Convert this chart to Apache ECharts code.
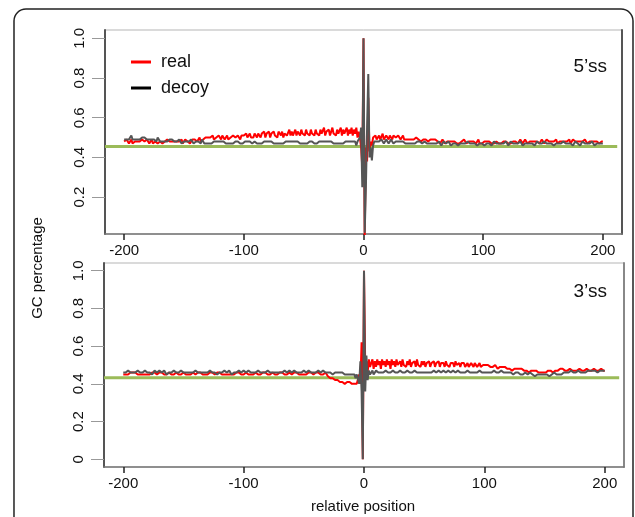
<!DOCTYPE html>
<html><head><meta charset="utf-8">
<script src="https://cdn.jsdelivr.net/npm/echarts@6/dist/echarts.min.js"></script>
<style>html,body{margin:0;padding:0;background:#fff}#c{width:635px;height:517px}</style>
</head><body><div id="c"></div>
<script>
// x tick labels and y tick labels
const xTicks = [-200, -100, 0, 100, 200];
const yTicksTop = [0.2, 0.4, 0.6, 0.8, 1.0];
const yTicksBottom = [0, 0.2, 0.4, 0.6, 0.8, 1.0];
const panelLabels = ['5’ss', '3’ss'];
const seriesNames = ['real', 'decoy'];
// genome-wide GC reference levels (green lines)
const baselineTop = 0.455;
const baselineBottom = 0.433;
const baselineX = [-216, 212];

// 5'ss panel, positions -200..200
const topReal = [
0.48,0.47,0.49,0.48,0.47,0.48,0.49,0.47,0.48,0.48,
0.47,0.48,0.49,0.48,0.47,0.49,0.48,0.48,0.47,0.49,
0.48,0.47,0.48,0.49,0.47,0.48,0.48,0.49,0.47,0.48,
0.48,0.49,0.47,0.48,0.48,0.47,0.49,0.48,0.48,0.47,
0.48,0.49,0.48,0.47,0.48,0.49,0.48,0.48,0.49,0.47,
0.48,0.49,0.48,0.48,0.49,0.47,0.48,0.49,0.48,0.49,
0.49,0.48,0.49,0.50,0.48,0.49,0.49,0.48,0.50,0.49,
0.50,0.49,0.50,0.49,0.51,0.49,0.50,0.50,0.49,0.51,
0.50,0.49,0.51,0.50,0.49,0.50,0.51,0.49,0.50,0.50,
0.49,0.51,0.50,0.50,0.49,0.51,0.50,0.49,0.51,0.50,
0.51,0.50,0.52,0.50,0.51,0.52,0.50,0.51,0.50,0.52,
0.51,0.50,0.52,0.51,0.50,0.52,0.51,0.53,0.50,0.52,
0.51,0.53,0.50,0.52,0.51,0.53,0.51,0.52,0.50,0.53,
0.52,0.51,0.53,0.50,0.52,0.53,0.51,0.52,0.54,0.51,
0.53,0.51,0.52,0.54,0.51,0.53,0.52,0.51,0.54,0.52,
0.53,0.51,0.54,0.52,0.53,0.51,0.54,0.52,0.53,0.51,
0.54,0.52,0.53,0.51,0.54,0.52,0.53,0.55,0.51,0.53,
0.52,0.54,0.51,0.53,0.55,0.52,0.53,0.51,0.54,0.52,
0.53,0.55,0.51,0.54,0.52,0.53,0.55,0.51,0.54,0.52,
0.55,0.51,0.54,0.52,0.55,0.50,0.53,0.50,0.45,0.35,
1.00,0.00,0.45,0.38,0.70,0.43,0.48,0.46,0.50,0.49,
0.51,0.49,0.50,0.51,0.49,0.50,0.52,0.49,0.50,0.51,
0.50,0.49,0.51,0.50,0.49,0.51,0.50,0.50,0.49,0.51,
0.50,0.49,0.50,0.51,0.49,0.50,0.49,0.50,0.49,0.50,
0.49,0.50,0.49,0.48,0.50,0.49,0.49,0.50,0.48,0.49,
0.49,0.48,0.49,0.50,0.48,0.49,0.49,0.48,0.49,0.48,
0.49,0.48,0.48,0.49,0.47,0.48,0.49,0.48,0.47,0.48,
0.48,0.47,0.48,0.49,0.48,0.47,0.48,0.48,0.47,0.48,
0.47,0.48,0.48,0.47,0.49,0.48,0.47,0.48,0.48,0.47,
0.48,0.47,0.48,0.48,0.47,0.48,0.49,0.47,0.48,0.47,
0.48,0.48,0.47,0.48,0.47,0.48,0.48,0.47,0.48,0.47,
0.47,0.48,0.48,0.47,0.48,0.47,0.48,0.48,0.47,0.48,
0.48,0.47,0.48,0.47,0.48,0.48,0.47,0.48,0.48,0.47,
0.48,0.49,0.48,0.47,0.48,0.49,0.48,0.47,0.48,0.48,
0.49,0.48,0.47,0.48,0.49,0.48,0.48,0.47,0.48,0.49,
0.48,0.47,0.48,0.49,0.48,0.48,0.47,0.48,0.49,0.48,
0.48,0.49,0.47,0.48,0.48,0.49,0.48,0.47,0.48,0.49,
0.48,0.48,0.49,0.47,0.48,0.49,0.48,0.48,0.47,0.48,
0.49,0.48,0.47,0.48,0.48,0.49,0.48,0.47,0.48,0.48,
0.47,0.48,0.49,0.48,0.47,0.48,0.48,0.47,0.48,0.48,
0.48];

const topDecoy = [
0.49,0.50,0.49,0.50,0.49,0.50,0.51,0.49,0.50,0.49,
0.50,0.49,0.50,0.49,0.48,0.50,0.49,0.50,0.49,0.49,
0.48,0.49,0.50,0.49,0.48,0.49,0.49,0.48,0.50,0.49,
0.48,0.49,0.48,0.49,0.48,0.49,0.48,0.48,0.49,0.48,
0.49,0.48,0.48,0.49,0.48,0.48,0.49,0.48,0.47,0.48,
0.48,0.49,0.48,0.47,0.48,0.48,0.49,0.48,0.47,0.48,
0.48,0.47,0.48,0.48,0.47,0.49,0.48,0.47,0.48,0.47,
0.48,0.47,0.48,0.47,0.47,0.48,0.47,0.48,0.47,0.48,
0.47,0.48,0.47,0.48,0.47,0.47,0.48,0.47,0.48,0.47,
0.48,0.47,0.47,0.48,0.47,0.48,0.47,0.47,0.48,0.47,
0.47,0.48,0.47,0.48,0.47,0.48,0.48,0.47,0.47,0.48,
0.48,0.47,0.48,0.47,0.48,0.47,0.47,0.48,0.47,0.48,
0.47,0.48,0.47,0.48,0.48,0.47,0.48,0.47,0.48,0.47,
0.48,0.47,0.48,0.47,0.48,0.48,0.47,0.48,0.47,0.48,
0.47,0.48,0.47,0.48,0.47,0.48,0.48,0.47,0.48,0.47,
0.48,0.47,0.48,0.47,0.47,0.48,0.47,0.48,0.48,0.47,
0.48,0.47,0.48,0.48,0.47,0.48,0.47,0.48,0.47,0.48,
0.47,0.48,0.47,0.48,0.48,0.47,0.48,0.47,0.48,0.47,
0.48,0.47,0.48,0.47,0.48,0.48,0.47,0.48,0.47,0.48,
0.47,0.48,0.47,0.48,0.46,0.48,0.47,0.50,0.55,0.25,
1.00,0.02,0.25,0.55,0.82,0.40,0.45,0.385,0.46,0.48,
0.47,0.48,0.49,0.48,0.47,0.49,0.48,0.47,0.48,0.49,
0.48,0.47,0.48,0.49,0.48,0.47,0.48,0.48,0.47,0.48,
0.47,0.48,0.47,0.48,0.48,0.47,0.48,0.47,0.48,0.47,
0.48,0.47,0.48,0.47,0.47,0.48,0.47,0.48,0.47,0.47,
0.47,0.48,0.47,0.47,0.48,0.47,0.48,0.47,0.46,0.47,
0.48,0.47,0.47,0.48,0.47,0.46,0.47,0.48,0.47,0.47,
0.47,0.48,0.47,0.46,0.47,0.47,0.48,0.47,0.47,0.46,
0.47,0.47,0.48,0.47,0.46,0.47,0.47,0.48,0.47,0.47,
0.46,0.47,0.48,0.47,0.47,0.46,0.47,0.47,0.48,0.47,
0.47,0.46,0.47,0.47,0.48,0.47,0.47,0.46,0.47,0.48,
0.47,0.47,0.46,0.47,0.48,0.47,0.46,0.47,0.47,0.48,
0.47,0.46,0.47,0.48,0.47,0.47,0.46,0.47,0.48,0.47,
0.47,0.48,0.47,0.46,0.47,0.47,0.48,0.47,0.46,0.47,
0.48,0.47,0.47,0.46,0.47,0.48,0.47,0.47,0.46,0.47,
0.47,0.48,0.47,0.47,0.46,0.47,0.48,0.47,0.47,0.46,
0.47,0.47,0.48,0.47,0.46,0.47,0.47,0.48,0.47,0.47,
0.46,0.47,0.48,0.47,0.47,0.46,0.47,0.48,0.47,0.47,
0.47,0.46,0.47,0.48,0.47,0.47,0.46,0.47,0.48,0.47,
0.47,0.48,0.47,0.46,0.47,0.47,0.48,0.47,0.46,0.47,
0.47];

// 3'ss panel, positions -200..200
const bottomReal = [
0.45,0.46,0.45,0.46,0.45,0.45,0.46,0.45,0.46,0.45,
0.46,0.45,0.45,0.46,0.45,0.46,0.45,0.46,0.45,0.45,
0.45,0.46,0.45,0.45,0.46,0.45,0.46,0.46,0.45,0.45,
0.46,0.45,0.46,0.45,0.45,0.46,0.45,0.45,0.46,0.45,
0.45,0.46,0.45,0.46,0.46,0.45,0.45,0.46,0.45,0.46,
0.46,0.45,0.45,0.46,0.45,0.46,0.45,0.45,0.46,0.45,
0.45,0.46,0.46,0.45,0.46,0.45,0.45,0.46,0.45,0.46,
0.45,0.45,0.46,0.45,0.46,0.46,0.45,0.45,0.46,0.45,
0.46,0.45,0.45,0.46,0.45,0.46,0.45,0.46,0.45,0.45,
0.45,0.46,0.45,0.45,0.46,0.45,0.46,0.45,0.45,0.46,
0.45,0.45,0.46,0.45,0.45,0.46,0.45,0.44,0.45,0.46,
0.46,0.45,0.45,0.46,0.45,0.45,0.46,0.45,0.46,0.45,
0.45,0.46,0.45,0.45,0.46,0.45,0.45,0.46,0.45,0.45,
0.46,0.45,0.46,0.45,0.45,0.46,0.45,0.45,0.46,0.45,
0.45,0.45,0.46,0.45,0.46,0.45,0.45,0.46,0.45,0.46,
0.45,0.46,0.45,0.45,0.46,0.45,0.46,0.45,0.45,0.46,
0.46,0.45,0.46,0.45,0.45,0.46,0.45,0.45,0.46,0.45,
0.44,0.43,0.43,0.42,0.43,0.42,0.42,0.41,0.42,0.41,
0.41,0.42,0.41,0.41,0.40,0.41,0.41,0.40,0.41,0.40,
0.40,0.39,0.40,0.39,0.40,0.40,0.45,0.40,0.62,0.00,
1.00,0.50,0.52,0.46,0.53,0.49,0.51,0.53,0.48,0.52,
0.49,0.53,0.50,0.52,0.48,0.53,0.50,0.52,0.49,0.53,
0.50,0.52,0.48,0.53,0.50,0.52,0.49,0.53,0.50,0.51,
0.52,0.49,0.53,0.50,0.51,0.49,0.52,0.50,0.53,0.49,
0.51,0.50,0.52,0.49,0.53,0.50,0.51,0.49,0.52,0.50,
0.52,0.49,0.51,0.50,0.52,0.49,0.51,0.50,0.52,0.49,
0.51,0.50,0.52,0.49,0.51,0.50,0.51,0.49,0.52,0.50,
0.51,0.49,0.51,0.50,0.51,0.49,0.52,0.50,0.50,0.51,
0.49,0.51,0.50,0.51,0.49,0.50,0.51,0.49,0.50,0.51,
0.50,0.49,0.51,0.50,0.49,0.50,0.51,0.49,0.50,0.50,
0.49,0.50,0.49,0.50,0.49,0.49,0.50,0.49,0.49,0.50,
0.49,0.48,0.49,0.49,0.48,0.49,0.48,0.49,0.48,0.48,
0.49,0.48,0.48,0.47,0.48,0.48,0.47,0.48,0.47,0.48,
0.47,0.48,0.47,0.47,0.46,0.47,0.47,0.46,0.47,0.47,
0.46,0.47,0.46,0.47,0.46,0.46,0.47,0.46,0.47,0.46,
0.47,0.46,0.47,0.47,0.46,0.47,0.47,0.46,0.47,0.47,
0.48,0.47,0.47,0.48,0.47,0.48,0.47,0.47,0.48,0.47,
0.47,0.48,0.47,0.47,0.48,0.47,0.48,0.47,0.47,0.48,
0.47,0.47,0.48,0.47,0.47,0.48,0.47,0.47,0.48,0.47,
0.47,0.48,0.47,0.47,0.48,0.47,0.47,0.48,0.47,0.47,
0.47];

const bottomDecoy = [
0.46,0.47,0.46,0.46,0.47,0.46,0.46,0.47,0.46,0.47,
0.46,0.46,0.47,0.46,0.46,0.47,0.46,0.46,0.47,0.46,
0.46,0.47,0.46,0.46,0.45,0.46,0.47,0.46,0.46,0.46,
0.47,0.46,0.46,0.46,0.47,0.46,0.45,0.46,0.46,0.47,
0.46,0.46,0.47,0.46,0.46,0.45,0.46,0.46,0.47,0.46,
0.46,0.47,0.46,0.46,0.46,0.47,0.46,0.45,0.46,0.46,
0.47,0.46,0.46,0.47,0.46,0.46,0.46,0.47,0.46,0.45,
0.46,0.46,0.47,0.46,0.46,0.47,0.46,0.46,0.45,0.46,
0.46,0.47,0.46,0.46,0.47,0.46,0.46,0.46,0.47,0.46,
0.45,0.46,0.46,0.47,0.46,0.46,0.47,0.46,0.46,0.46,
0.47,0.46,0.46,0.46,0.47,0.46,0.46,0.47,0.46,0.46,
0.46,0.46,0.47,0.46,0.46,0.45,0.46,0.47,0.46,0.46,
0.47,0.46,0.46,0.47,0.46,0.46,0.46,0.47,0.46,0.46,
0.46,0.47,0.46,0.46,0.47,0.46,0.46,0.46,0.47,0.46,
0.46,0.46,0.47,0.46,0.46,0.47,0.46,0.45,0.46,0.46,
0.47,0.46,0.46,0.46,0.47,0.46,0.46,0.47,0.46,0.46,
0.46,0.46,0.47,0.46,0.46,0.46,0.47,0.46,0.46,0.45,
0.46,0.47,0.46,0.46,0.45,0.46,0.46,0.47,0.46,0.46,
0.46,0.45,0.46,0.46,0.45,0.46,0.45,0.46,0.45,0.45,
0.45,0.44,0.45,0.43,0.45,0.44,0.40,0.52,0.36,0.00,
1.00,0.36,0.55,0.42,0.47,0.45,0.46,0.47,0.45,0.46,
0.47,0.46,0.46,0.47,0.46,0.47,0.46,0.46,0.47,0.46,
0.46,0.47,0.46,0.46,0.47,0.46,0.46,0.47,0.46,0.46,
0.47,0.46,0.46,0.47,0.46,0.46,0.47,0.46,0.46,0.47,
0.46,0.46,0.47,0.46,0.46,0.47,0.46,0.46,0.46,0.47,
0.46,0.47,0.46,0.46,0.46,0.47,0.46,0.46,0.47,0.46,
0.46,0.46,0.47,0.46,0.46,0.46,0.47,0.46,0.46,0.46,
0.47,0.46,0.46,0.46,0.47,0.46,0.46,0.46,0.47,0.46,
0.46,0.46,0.46,0.47,0.46,0.46,0.47,0.46,0.46,0.46,
0.46,0.47,0.46,0.46,0.46,0.46,0.47,0.46,0.46,0.46,
0.46,0.46,0.46,0.47,0.46,0.46,0.46,0.46,0.47,0.46,
0.46,0.46,0.46,0.46,0.47,0.46,0.46,0.45,0.46,0.46,
0.46,0.45,0.46,0.46,0.45,0.46,0.46,0.45,0.46,0.45,
0.45,0.46,0.45,0.45,0.46,0.45,0.45,0.45,0.46,0.45,
0.45,0.45,0.44,0.45,0.45,0.44,0.45,0.44,0.45,0.44,
0.45,0.44,0.45,0.45,0.44,0.45,0.45,0.45,0.46,0.45,
0.45,0.46,0.45,0.46,0.45,0.46,0.46,0.45,0.46,0.46,
0.46,0.46,0.47,0.46,0.46,0.47,0.46,0.46,0.47,0.46,
0.46,0.47,0.46,0.47,0.46,0.47,0.47,0.46,0.47,0.46,
0.47,0.46,0.47,0.47,0.46,0.47,0.47,0.46,0.47,0.47,
0.47];

const positions = [];
for (let p = -200; p <= 200; p++) positions.push(p);
const pair = arr => positions.map((p, i) => [p, arr[i]]);

const FONT = '"Liberation Sans", Arial, Helvetica, sans-serif';
const RED = '#ff0000', GREY = '#555555', GREEN = '#9bbb59';

const grids = [
  {left: 105, top: 30, width: 517, height: 204, show: true, borderColor: '#b5b5b5', borderWidth: 1},
  {left: 104, top: 263, width: 520, height: 204, show: true, borderColor: '#b5b5b5', borderWidth: 1}
];

function xAxisFor(gi) {
  return {
    type: 'value', gridIndex: gi, min: -216, max: 216,
    axisLine: {show: true, onZero: false, lineStyle: {color: '#777', width: 1.5}},
    axisTick: {show: true, length: 6, customValues: xTicks, lineStyle: {color: '#222', width: 1.5}},
    axisLabel: {customValues: xTicks, margin: 9, fontSize: 15, color: '#111', fontFamily: FONT},
    splitLine: {show: false}
  };
}
function yAxisFor(gi, min, max, ticks) {
  return {
    type: 'value', gridIndex: gi, min: min, max: max,
    axisLine: {show: true, onZero: false, lineStyle: {color: '#555', width: 2}},
    axisTick: {show: true, length: 13, customValues: ticks, lineStyle: {color: '#999', width: 1}},
    axisLabel: {customValues: ticks, rotate: 90, margin: 18, fontSize: 15, color: '#111', fontFamily: FONT,
      formatter: v => (v === 0 ? '0' : v.toFixed(1))},
    splitLine: {show: false}
  };
}
function rightAxisFor(gi, min, max, col) {
  return {
    type: 'value', gridIndex: gi, min: min, max: max, position: 'right',
    axisLine: {show: true, onZero: false, lineStyle: {color: col, width: 2}},
    axisTick: {show: false}, axisLabel: {show: false}, splitLine: {show: false}
  };
}

function lineSeries(name, data, xi, yi, color, z, w) {
  return {
    name: name, type: 'line', xAxisIndex: xi, yAxisIndex: yi, data: data,
    showSymbol: false, symbol: 'none', z: z,
    lineStyle: {color: color, width: w || 2}, itemStyle: {color: color},
    emphasis: {disabled: true}, animation: false
  };
}

const option = {
  backgroundColor: '#fff',
  animation: false,
  grid: grids,
  xAxis: [xAxisFor(0), xAxisFor(1)],
  yAxis: [
    yAxisFor(0, 0.014, 1.042, yTicksTop),
    yAxisFor(1, -0.041, 1.041, yTicksBottom),
    rightAxisFor(0, 0.014, 1.042, '#555'),
    rightAxisFor(1, -0.041, 1.041, '#888')
  ],
  legend: {
    orient: 'vertical', left: 126, top: 48, itemWidth: 20, itemHeight: 3, itemGap: 8,
    icon: 'rect', selectedMode: false,
    textStyle: {fontSize: 18, color: '#111', fontFamily: FONT, lineHeight: 18, padding: [0, 0, 0, 5]},
    data: [
      {name: seriesNames[0], itemStyle: {color: RED}},
      {name: seriesNames[1], itemStyle: {color: '#000'}}
    ]
  },
  series: [
    lineSeries('baseline', baselineX.map(x => [x, baselineTop]), 0, 0, GREEN, 1, 3),
    lineSeries('baseline', baselineX.map(x => [x, baselineBottom]), 1, 1, GREEN, 1, 3),
    lineSeries(seriesNames[0], pair(topReal), 0, 0, RED, 2),
    lineSeries(seriesNames[1], pair(topDecoy), 0, 0, GREY, 3),
    lineSeries(seriesNames[0], pair(bottomReal), 1, 1, RED, 2),
    lineSeries(seriesNames[1], pair(bottomDecoy), 1, 1, GREY, 3)
  ],
  graphic: [
    {type: 'rect', shape: {x: 14, y: 9, width: 619, height: 560, r: 12}, silent: true,
      style: {fill: 'none', stroke: '#222', lineWidth: 1.5}},
    {type: 'text', x: 607, y: 67, silent: true,
      style: {text: panelLabels[0], fontSize: 19, fontFamily: FONT, fill: '#111', align: 'right', verticalAlign: 'middle'}},
    {type: 'text', x: 607, y: 292, silent: true,
      style: {text: panelLabels[1], fontSize: 19, fontFamily: FONT, fill: '#111', align: 'right', verticalAlign: 'middle'}},
    {type: 'text', x: 38, y: 268, rotation: Math.PI / 2, silent: true,
      style: {text: 'GC percentage', fontSize: 15, fontFamily: FONT, fill: '#111', align: 'center', verticalAlign: 'middle'}},
    {type: 'text', x: 363, y: 507, silent: true,
      style: {text: 'relative position', fontSize: 15, fontFamily: FONT, fill: '#111', align: 'center', verticalAlign: 'middle'}}
  ]
};
const chart = echarts.init(document.getElementById('c'), null, {renderer: 'canvas'});
chart.setOption(option);
</script></body></html>
